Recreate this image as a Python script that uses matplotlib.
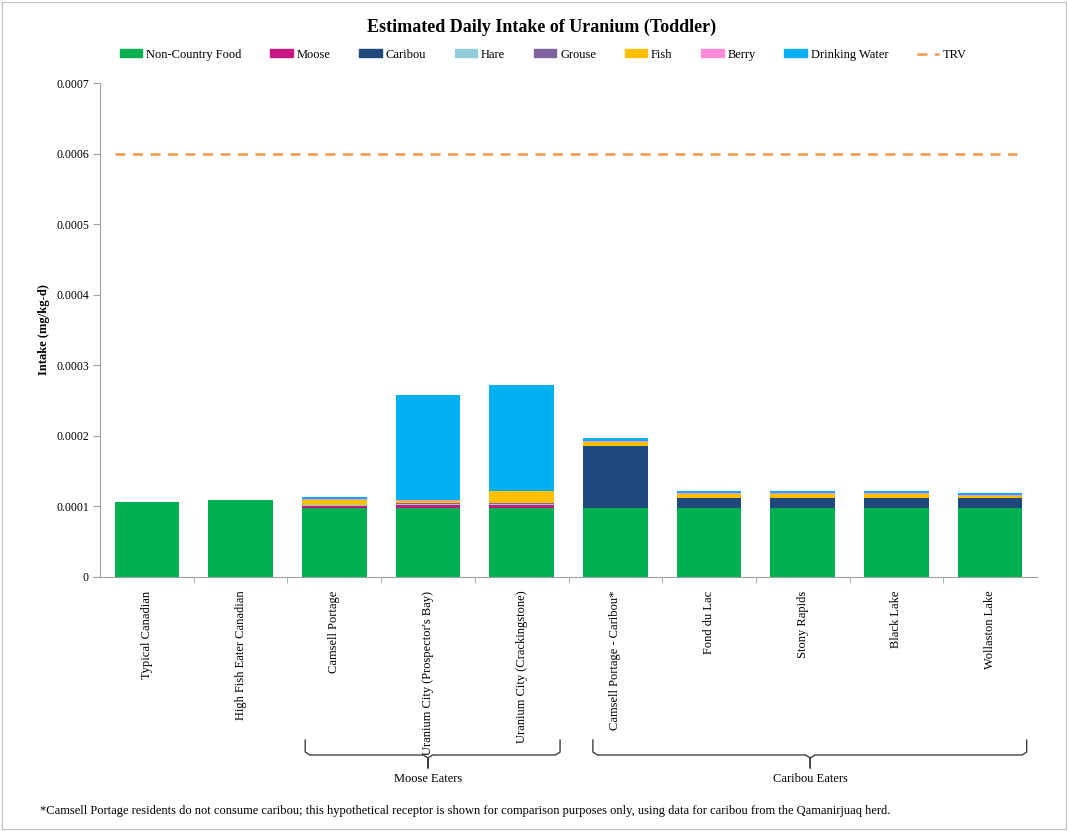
import numpy as np
import matplotlib
matplotlib.use("Agg")
import matplotlib.pyplot as plt
from matplotlib.transforms import blended_transform_factory
from matplotlib.patches import Rectangle

plt.rcParams["font.family"] = ["Liberation Serif", "DejaVu Serif"]

# 数据
categories = ["Typical Canadian", "High Fish Eater Canadian", "Camsell Portage",
              "Uranium City (Prospector's Bay)", "Uranium City (Crackingstone)",
              "Camsell Portage - Caribou*", "Fond du Lac", "Stony Rapids",
              "Black Lake", "Wollaston Lake"]
series_names = ["Non-Country Food", "Moose", "Caribou", "Hare", "Grouse",
                "Fish", "Berry", "Drinking Water"]
non_country = [1.065e-4, 1.09e-4, 0.98e-4, 0.98e-4, 0.98e-4, 0.98e-4, 0.98e-4, 0.98e-4, 0.98e-4, 0.98e-4]
moose = [0, 0, 0.03e-4, 0.045e-4, 0.045e-4, 0, 0, 0, 0, 0]
caribou = [0, 0, 0, 0, 0, 0.873e-4, 0.14e-4, 0.14e-4, 0.14e-4, 0.14e-4]
hare = [0, 0, 0.003e-4, 0.005e-4, 0.005e-4, 0, 0, 0, 0, 0]
grouse = [0, 0, 0.003e-4, 0.015e-4, 0.02e-4, 0, 0, 0, 0, 0]
fish = [0, 0, 0.07e-4, 0.03e-4, 0.165e-4, 0.06e-4, 0.06e-4, 0.06e-4, 0.06e-4, 0.03e-4]
berry = [0, 0, 0.015e-4, 0.015e-4, 0.01e-4, 0.02e-4, 0.005e-4, 0.005e-4, 0.005e-4, 0.005e-4]
water = [0, 0, 0.03e-4, 1.49e-4, 1.50e-4, 0.04e-4, 0.03e-4, 0.04e-4, 0.03e-4, 0.04e-4]
trv = 0.0006
colors = ["#00B050", "#C71585", "#1F497D", "#92CDDC", "#8064A2", "#FFC000", "#FF8AD8", "#00B0F0"]
ytick_vals = [0, 0.0001, 0.0002, 0.0003, 0.0004, 0.0005, 0.0006, 0.0007]
ytick_labels = ["0", "0.0001", "0.0002", "0.0003", "0.0004", "0.0005", "0.0006", "0.0007"]

fig = plt.figure(figsize=(10.68, 8.31), dpi=100)
ax = fig.add_axes([100 / 1068, 0.3057, 937 / 1068, 0.5943])

x = np.arange(len(categories))
bottom = np.zeros(len(categories))
handles = []
for name, vals, c in zip(series_names, [non_country, moose, caribou, hare, grouse, fish, berry, water], colors):
    ax.bar(x, vals, 0.69, bottom=bottom, color=c, edgecolor="none", label=name)
    bottom += np.array(vals)
    handles.append(Rectangle((0, 0), 1, 1, color=c))
line, = ax.plot([-0.34, 9.29], [trv, trv], ls=(0, (4, 3)), color="#F79646", lw=1.8, label="TRV")
handles.append(line)

ax.set_xlim(-0.5, 9.5)
ax.set_ylim(0, 0.0007)
ax.set_yticks(ytick_vals)
ax.set_yticklabels(ytick_labels, fontsize=8.5)
ax.set_ylabel("Intake (mg/kg-d)", fontsize=9, fontweight="bold", labelpad=4)
ax.set_xticks(x)
ax.set_xticklabels(categories, rotation=90, fontsize=9, va="top", ha="center")
ax.set_xticks(x[:-1] + 0.5, minor=True)
ax.tick_params(axis="x", which="major", length=0, pad=10)
ax.tick_params(axis="x", which="minor", length=4, color="#A0A0A0")
ax.tick_params(axis="y", length=5, color="#A0A0A0", pad=3)
for s in ["top", "right"]:
    ax.spines[s].set_visible(False)
for s in ["left", "bottom"]:
    ax.spines[s].set_color("#A0A0A0")

fig.text(0.507, 0.967, "Estimated Daily Intake of Uranium (Toddler)", ha="center", va="center",
         fontsize=13, fontweight="bold")
fig.legend(handles, series_names + ["TRV"], loc="center", bbox_to_anchor=(0.509, 0.934), ncol=9,
           frameon=False, fontsize=9, handlelength=1.8, handleheight=0.6, columnspacing=2.3,
           handletextpad=0.3)

# 大括号分组
tr = blended_transform_factory(ax.transData, fig.transFigure)
def py(p):
    return 1 - p / 831

def brace(x0, x1, xm, label):
    r = 0.05
    xs = [x0, x0, x0 + r, xm - r, xm, xm, xm, xm + r, x1 - r, x1, x1]
    ys = [py(740), py(752), py(755), py(755), py(758), py(768), py(758), py(755), py(755), py(752), py(740)]
    ax.plot(xs, ys, color="#404040", lw=1.0, transform=tr, clip_on=False)
    ax.text(xm, py(779), label, transform=tr, ha="center", va="center", fontsize=9)

brace(1.69, 4.41, 3.0, "Moose Eaters")
brace(4.76, 9.39, 7.08, "Caribou Eaters")

fig.text(40 / 1068, py(811), "*Camsell Portage residents do not consume caribou; this hypothetical receptor is shown "
         "for comparison purposes only, using data for caribou from the Qamanirjuaq herd.",
         ha="left", va="center", fontsize=9)

fig.patches.append(Rectangle((0.002, 0.002), 0.996, 0.996, transform=fig.transFigure,
                             fill=False, edgecolor="#BFBFBF", lw=0.8))

fig.savefig("out.png", dpi=100)
